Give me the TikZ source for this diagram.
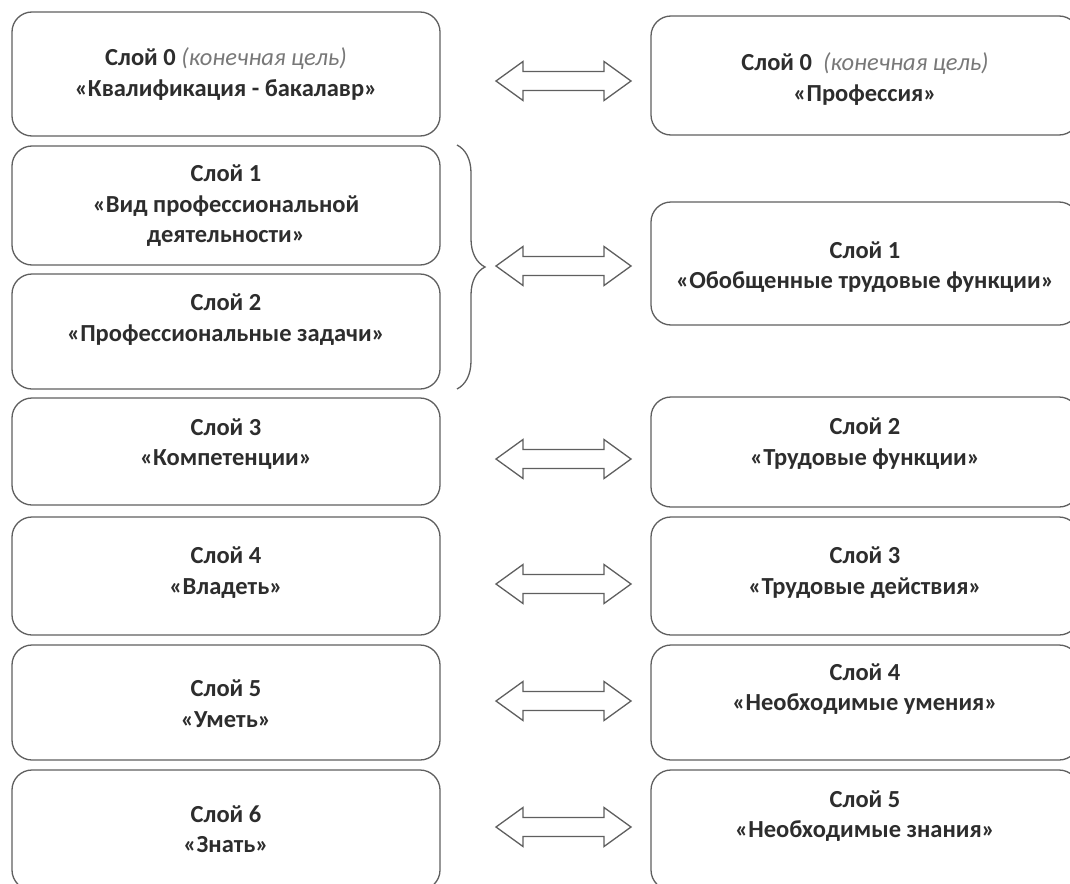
\documentclass[tikz,border=0pt]{standalone}
\usepackage{fontspec}
\setmainfont{Carlito}
\usetikzlibrary{decorations.pathreplacing}
\definecolor{boxgray}{RGB}{95,95,95}
\definecolor{txtgray}{RGB}{45,45,45}
\definecolor{notegray}{RGB}{120,120,120}

% block double arrow, left tip at #1
\newcommand{\dblarr}[1]{%
  \draw[arrowbox] (#1) -- ++(27,-19.5) -- ++(0,10) -- ++(81,0) -- ++(0,-10)
    -- ++(27,19.5) -- ++(-27,19.5) -- ++(0,-10) -- ++(-81,0) -- ++(0,10) -- cycle;}

\begin{document}
\begin{tikzpicture}
  [x=1pt,y=-1pt,
   layer/.style={draw=boxgray,line width=1.3pt,rounded corners=20pt,
     minimum width=428pt,inner sep=0pt},
   lbl/.style={text=txtgray,font=\fontsize{24.5}{30.5}\selectfont\bfseries,align=center},
   arrowbox/.style={draw=boxgray,line width=1.3pt,fill=white}]
  \useasboundingbox (0,0) rectangle (1070,883);

  % qualification side
  \node[layer,minimum height=124pt] (l0) at (226,74)    {};
  \node[layer,minimum height=119pt] (l1) at (226,205.5) {};
  \node[layer,minimum height=115pt] (l2) at (226,331.5) {};
  \node[layer,minimum height=107pt] (l3) at (226,451.5) {};
  \node[layer,minimum height=118pt] (l4) at (226,576)   {};
  \node[layer,minimum height=115pt] (l5) at (226,702.5) {};
  \node[layer,minimum height=120pt] (l6) at (226,830)   {};

  % profession side
  \node[layer,minimum height=119pt] (r0) at (865,75.5)  {};
  \node[layer,minimum height=123pt] (r1) at (865,263.5) {};
  \node[layer,minimum height=110pt] (r2) at (865,452)   {};
  \node[layer,minimum height=118pt] (r3) at (865,576)   {};
  \node[layer,minimum height=115pt] (r4) at (865,702.5) {};
  \node[layer,minimum height=120pt] (r5) at (865,830)   {};

  \node[lbl] (tl0) at (226,74)    {Слой 0 {\mdseries\itshape\color{notegray}(конечная цель)}\\«Квалификация - бакалавр»};
  \node[lbl] (tl1) at (226,206)   {Слой 1\\«Вид профессиональной\\деятельности»};
  \node[lbl] (tl2) at (226,319.5) {Слой 2\\«Профессиональные задачи»};
  \node[lbl] (tl3) at (226,444)   {Слой 3\\«Компетенции»};
  \node[lbl] (tl4) at (226,572.5) {Слой 4\\«Владеть»};
  \node[lbl] (tl5) at (226,703.5) {Слой 5\\«Уметь»};
  \node[lbl] (tl6) at (226,829)   {Слой 6\\«Знать»};

  \node[lbl] (tr0) at (865,79)    {Слой 0\ \ {\mdseries\itshape\color{notegray}(конечная цель)}\\«Профессия»};
  \node[lbl] (tr1) at (865,267)   {Слой 1\\«Обобщенные трудовые функции»};
  \node[lbl] (tr2) at (865,443.5) {Слой 2\\«Трудовые функции»};
  \node[lbl] (tr3) at (865,572.5) {Слой 3\\«Трудовые действия»};
  \node[lbl] (tr4) at (865,689)   {Слой 4\\«Необходимые умения»};
  \node[lbl] (tr5) at (865,816)   {Слой 5\\«Необходимые знания»};

  % brace over layers 1 and 2
  \draw[boxgray,line width=1.3pt,decorate,decoration={brace,amplitude=28pt}]
    (457,145) -- (457,389);

  \coordinate (a0) at (496,81);
  \coordinate (a1) at (496,266);
  \coordinate (a2) at (496,459);
  \coordinate (a3) at (496,584);
  \coordinate (a4) at (496,701);
  \coordinate (a5) at (496,827);
  \foreach \a in {a0,a1,a2,a3,a4,a5}
    {\dblarr{\a}}

\end{tikzpicture}
\end{document}
